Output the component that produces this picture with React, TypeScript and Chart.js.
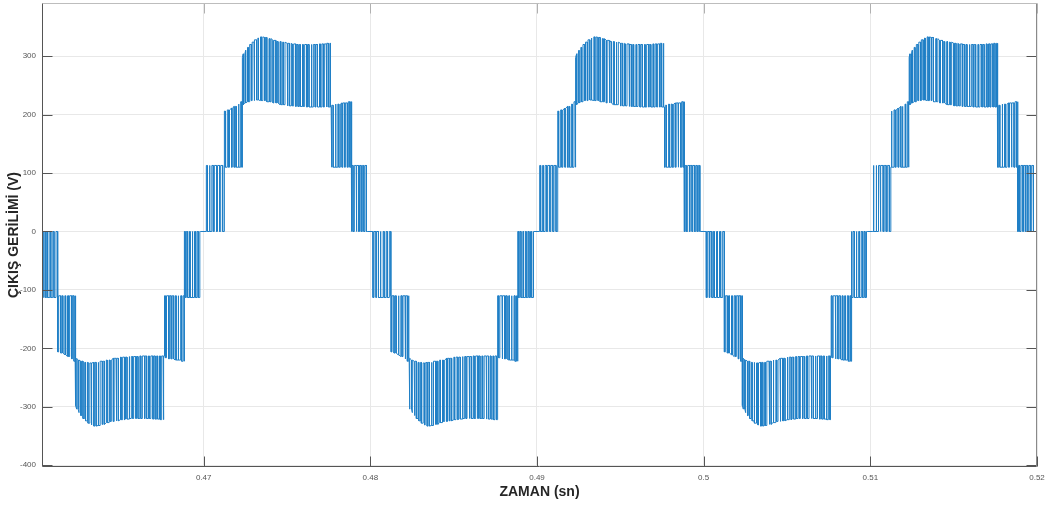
import React, { useEffect, useRef } from 'react';
import { Chart, registerables } from 'chart.js';

Chart.register(...registerables);

// ---- axes ----
const X_MIN = 0.4603;
const X_MAX = 0.52;
const Y_MIN = -403;
const Y_MAX = 391;
const X_TICKS = [0.47, 0.48, 0.49, 0.5, 0.51, 0.52];
const X_TICK_LABELS = ['0.47', '0.48', '0.49', '0.5', '0.51', '0.52'];
const Y_TICKS = [-400, -300, -200, -100, 0, 100, 200, 300];
const Y_TICK_LABELS = ['-400', '-300', '-200', '-100', '0', '100', '200', '300'];
const X_TITLE = 'ZAMAN (sn)';
const Y_TITLE = 'ÇIKIŞ GERİLİMİ (V)';

// ---- half cycles (s) and polarity ----
const HALF_CYCLE_STARTS = [0.46, 0.47, 0.48, 0.49, 0.5, 0.51];
const HALF_CYCLE_SIGNS = [-1, 1, -1, 1, -1, 1];

// ---- PWM bands of one half cycle (times in ms from half-cycle start, levels in V) ----
// Band A: 0 / +113
const BAND_A_RANGE = [0.15, 1.23];
const BAND_A_SWITCH = [0.16, 0.22, 0.34, 0.38, 0.49, 0.58, 0.64, 0.77, 0.83, 0.95, 1.02, 1.14];
const BAND_A_LO_T = [0.15];
const BAND_A_LO_V = [0];
const BAND_A_HI_T = [0.15];
const BAND_A_HI_V = [113];

// Band B: 110 / 206..222
const BAND_B_RANGE = [1.23, 2.31];
const BAND_B_SWITCH = [1.25, 1.3, 1.42, 1.49, 1.55, 1.67, 1.72, 1.83, 1.9, 1.96, 2.08, 2.12, 2.22, 2.29];
const BAND_B_LO_T = [1.23];
const BAND_B_LO_V = [110];
const BAND_B_HI_T = [1.23, 1.5, 1.7, 1.9, 2.1, 2.31];
const BAND_B_HI_V = [206, 208, 211, 214, 218, 222];

// Band C: 213..225 / 298..333
const BAND_C_RANGE = [2.31, 7.65];
const BAND_C_SWITCH = [
  2.33, 2.38, 2.47, 2.52, 2.63, 2.68, 2.76, 2.86, 2.91, 3.02,
  3.06, 3.17, 3.25, 3.29, 3.41, 3.47, 3.55, 3.66, 3.7, 3.79,
  3.92, 3.97, 4.05, 4.16, 4.21, 4.33, 4.38, 4.46, 4.58, 4.63,
  4.74, 4.79, 4.88, 5.01, 5.05, 5.14, 5.25, 5.31, 5.4, 5.52,
  5.56, 5.66, 5.74, 5.8, 5.93, 5.97, 6.06, 6.17, 6.23, 6.32,
  6.45, 6.49, 6.58, 6.69, 6.74, 6.83, 6.95, 7.0, 7.09, 7.18,
  7.24, 7.35, 7.4, 7.48, 7.57, 7.61,
];
const BAND_C_LO_T = [2.31, 2.5, 2.7, 3.0, 3.2, 3.6, 3.9, 4.3, 4.8, 5.2, 5.7, 6.5, 7.65];
const BAND_C_LO_V = [217, 220, 222, 224, 225, 224, 222, 220, 217, 215, 214, 213, 213];
const BAND_C_HI_T = [2.31, 2.43, 2.55, 2.67, 2.8, 2.95, 3.1, 3.25, 3.45, 3.7, 3.9, 4.2, 4.5, 4.8, 5.1, 5.4, 5.7, 6.2, 6.6, 7.1, 7.65];
const BAND_C_HI_V = [298, 304, 310, 315, 320, 324, 328, 331, 333, 332, 330, 327, 325, 324, 322, 321, 320, 320, 320, 321, 322];

// Band D: 110 / 216..222
const BAND_D_RANGE = [7.65, 8.85];
const BAND_D_SWITCH = [7.7, 7.77, 7.9, 7.94, 8.05, 8.11, 8.2, 8.3, 8.35, 8.46, 8.5, 8.62, 8.68, 8.77, 8.83];
const BAND_D_LO_T = [7.65];
const BAND_D_LO_V = [110];
const BAND_D_HI_T = [7.65, 8.0, 8.4, 8.85];
const BAND_D_HI_V = [216, 218, 220, 222];

// Band E: 0 / 113
const BAND_E_RANGE = [8.85, 9.81];
const BAND_E_SWITCH = [8.89, 8.96, 9.04, 9.15, 9.19, 9.3, 9.35, 9.45, 9.52, 9.61, 9.68, 9.77];
const BAND_E_LO_T = [8.85];
const BAND_E_LO_V = [0];
const BAND_E_HI_T = [8.85];
const BAND_E_HI_V = [113];

const BANDS = [
  { range: BAND_A_RANGE, sw: BAND_A_SWITCH, loT: BAND_A_LO_T, loV: BAND_A_LO_V, hiT: BAND_A_HI_T, hiV: BAND_A_HI_V },
  { range: BAND_B_RANGE, sw: BAND_B_SWITCH, loT: BAND_B_LO_T, loV: BAND_B_LO_V, hiT: BAND_B_HI_T, hiV: BAND_B_HI_V },
  { range: BAND_C_RANGE, sw: BAND_C_SWITCH, loT: BAND_C_LO_T, loV: BAND_C_LO_V, hiT: BAND_C_HI_T, hiV: BAND_C_HI_V },
  { range: BAND_D_RANGE, sw: BAND_D_SWITCH, loT: BAND_D_LO_T, loV: BAND_D_LO_V, hiT: BAND_D_HI_T, hiV: BAND_D_HI_V },
  { range: BAND_E_RANGE, sw: BAND_E_SWITCH, loT: BAND_E_LO_T, loV: BAND_E_LO_V, hiT: BAND_E_HI_T, hiV: BAND_E_HI_V },
];

function nearestLevel(ts: number[], vs: number[], t: number): number {
  let best = 0;
  for (let i = 1; i < ts.length; i++) {
    if (Math.abs(ts[i] - t) < Math.abs(ts[best] - t)) best = i;
  }
  return vs[best];
}

function buildPoints() {
  const pts: { x: number; y: number }[] = [];
  HALF_CYCLE_STARTS.forEach((start, k) => {
    const sign = HALF_CYCLE_SIGNS[k];
    const push = (tms: number, v: number) => pts.push({ x: start + tms / 1000, y: sign * v });
    BANDS.forEach((b) => {
      const lvl = (high: boolean, t: number) =>
        high ? nearestLevel(b.hiT, b.hiV, t) : nearestLevel(b.loT, b.loV, t);
      let high = false;
      push(b.range[0], lvl(high, b.range[0]));
      b.sw.forEach((t) => {
        push(t, lvl(high, t));
        high = !high;
        push(t, lvl(high, t));
      });
      push(b.range[1], lvl(high, b.range[1]));
    });
  });
  return pts;
}

const FONT = "'Liberation Sans', Arial, Helvetica, sans-serif";

const framePlugin = {
  id: 'matlabFrame',
  afterDatasetsDraw(chart: any) {
    const { ctx, chartArea, scales } = chart;
    const { left, right, top, bottom } = chartArea;
    const L = Math.round(left) + 0.5;
    const R = Math.round(right) - 0.5;
    const T = Math.round(top) + 0.5;
    const B = Math.round(bottom) - 0.5;
    const line = (x1: number, y1: number, x2: number, y2: number) => {
      ctx.beginPath();
      ctx.moveTo(x1, y1);
      ctx.lineTo(x2, y2);
      ctx.stroke();
    };
    ctx.save();
    ctx.lineWidth = 1;
    ctx.strokeStyle = '#555555';
    X_TICKS.forEach((v) => {
      const px = Math.round(scales.x.getPixelForValue(v)) + 0.5;
      line(px, B, px, B - 10);
    });
    Y_TICKS.forEach((v) => {
      const py = Math.round(scales.y.getPixelForValue(v)) + 0.5;
      line(L, py, L + 10, py);
      line(R, py, R - 10, py);
    });
    ctx.strokeStyle = '#b0b0b0';
    X_TICKS.forEach((v) => {
      const px = Math.round(scales.x.getPixelForValue(v)) + 0.5;
      line(px, T, px, T + 10);
    });
    ctx.strokeStyle = '#bdbdbd';
    line(L, T, R, T);
    ctx.strokeStyle = '#8a8a8a';
    line(R, T, R, B);
    ctx.strokeStyle = '#555555';
    line(L, T, L, B);
    line(L, B, R, B);
    ctx.restore();
  },
};

export default function App() {
  const ref = useRef<HTMLCanvasElement | null>(null);

  useEffect(() => {
    if (!ref.current) return;
    const chart = new Chart(ref.current, {
      type: 'line',
      data: {
        datasets: [
          {
            data: buildPoints(),
            borderColor: '#1f7fc6',
            borderWidth: 1,
            pointRadius: 0,
            tension: 0,
            fill: false,
          },
        ],
      },
      options: {
        animation: false,
        responsive: false,
        parsing: false,
        normalized: true,
        events: [],
        layout: { padding: { left: 0, right: 16, top: 3, bottom: 0 } },
        plugins: { legend: { display: false }, tooltip: { enabled: false } },
        scales: {
          x: {
            type: 'linear',
            min: X_MIN,
            max: X_MAX,
            afterBuildTicks: (s: any) => {
              s.ticks = X_TICKS.map((v) => ({ value: v }));
            },
            afterFit: (s: any) => {
              s.height = 39;
              s.paddingLeft = 0;
              s.paddingRight = 0;
              s.paddingTop = 0;
              s.paddingBottom = 0;
            },
            grid: { color: '#e8e8e8', lineWidth: 1, drawTicks: false },
            border: { display: false },
            ticks: {
              autoSkip: false,
              maxRotation: 0,
              padding: 6,
              color: '#555555',
              font: { family: FONT, size: 8 },
              callback: (v: any) => {
                const i = X_TICKS.findIndex((t) => Math.abs(t - v) < 1e-9);
                return i >= 0 ? X_TICK_LABELS[i] : '';
              },
            },
            title: {
              display: true,
              text: X_TITLE,
              color: '#262626',
              font: { family: FONT, size: 14, weight: 'bold' },
              padding: { top: 0, bottom: 5 },
            },
          },
          y: {
            type: 'linear',
            min: Y_MIN,
            max: Y_MAX,
            afterBuildTicks: (s: any) => {
              s.ticks = Y_TICKS.map((v) => ({ value: v }));
            },
            afterFit: (s: any) => {
              s.width = 42;
              s.paddingLeft = 0;
              s.paddingRight = 0;
              s.paddingTop = 0;
              s.paddingBottom = 0;
            },
            grid: { color: '#e8e8e8', lineWidth: 1, drawTicks: false },
            border: { display: false },
            ticks: {
              autoSkip: false,
              padding: 6,
              color: '#555555',
              font: { family: FONT, size: 8 },
              callback: (v: any) => {
                const i = Y_TICKS.findIndex((t) => Math.abs(t - v) < 1e-9);
                return i >= 0 ? Y_TICK_LABELS[i] : '';
              },
            },
            title: {
              display: true,
              text: Y_TITLE,
              color: '#262626',
              font: { family: FONT, size: 14, weight: 'bold' },
              padding: { top: 6, bottom: 0 },
            },
          },
        },
      },
      plugins: [framePlugin],
    });
    return () => chart.destroy();
  }, []);

  return (
    <div style={{ position: 'fixed', left: 0, top: 0, width: 1053, height: 506, background: '#ffffff' }}>
      <canvas ref={ref} width={1053} height={506} style={{ display: 'block' }} />
    </div>
  );
}
